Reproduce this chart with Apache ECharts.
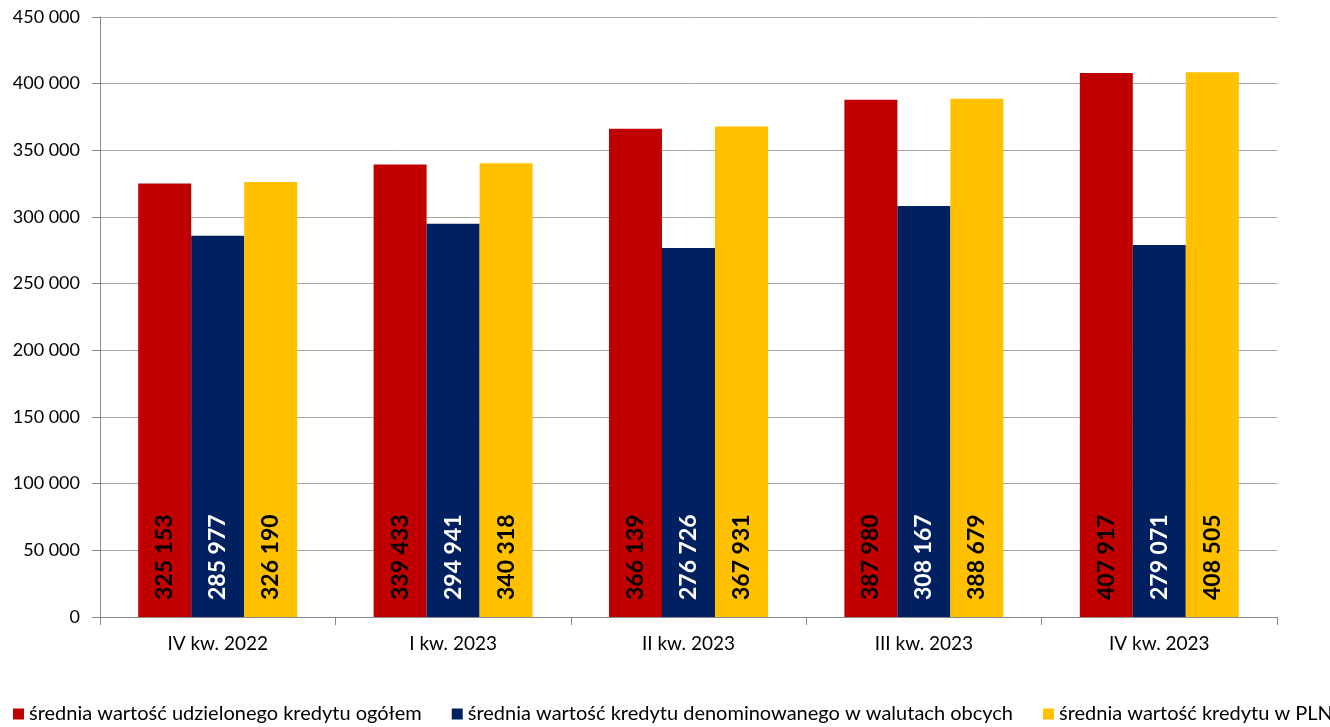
<!DOCTYPE html>
<html><head><meta charset="utf-8">
<script src="https://cdn.jsdelivr.net/npm/echarts@6/dist/echarts.min.js"></script>
<style>html,body{margin:0;padding:0;background:#fff}#c{width:1330px;height:727px}</style>
</head><body><div id="c"></div>
<script>
const categories = ['IV kw. 2022','I kw. 2023','II kw. 2023','III kw. 2023','IV kw. 2023'];
const seriesNames = ['średnia wartość udzielonego kredytu ogółem','średnia wartość kredytu denominowanego w walutach obcych','średnia wartość kredytu w PLN'];
const totalValues = [325153, 339433, 366139, 387980, 407917];
const foreignValues = [285977, 294941, 276726, 308167, 279071];
const plnValues = [326190, 340318, 367931, 388679, 408505];
const colors = ['#C00000','#002060','#FFC000'];
const labelColors = ['#000000','#ffffff','#000000'];
const FONT = 'Lato, "Open Sans", sans-serif';
const fmt = v => String(v).replace(/\B(?=(\d{3})+(?!\d))/g, ' ');
const chart = echarts.init(document.getElementById('c'));
const data = [totalValues, foreignValues, plnValues];
chart.setOption({
  animation:false,
  grid:{left:100,right:53,top:17,bottom:110},
  legend:{top:704,left:13,width:1500,padding:0,itemWidth:11,itemHeight:11,itemGap:30,icon:'rect',
    textStyle:{fontFamily:FONT,fontSize:20,color:'#000'}},
  xAxis:{type:'category',data:categories,
    axisLine:{lineStyle:{color:'#888'}},
    axisTick:{show:true,length:8,lineStyle:{color:'#888'}},
    axisLabel:{fontFamily:FONT,fontSize:19,color:'#000',margin:17}},
  yAxis:{type:'value',min:0,max:450000,interval:50000,
    axisLine:{show:true,lineStyle:{color:'#888'}},
    axisTick:{show:true,length:8,lineStyle:{color:'#888'}},
    splitLine:{lineStyle:{color:'#a6a6a6'}},
    axisLabel:{fontFamily:FONT,fontSize:18,color:'#000',margin:20,formatter:fmt}},
  series:data.map((d,i)=>({
    name:seriesNames[i],type:'bar',data:d,barWidth:53,barGap:'0%',
    itemStyle:{color:colors[i]},
    label:{show:true,position:'insideBottom',rotate:90,align:'left',verticalAlign:'middle',distance:17,
      formatter:p=>fmt(p.value),fontFamily:FONT,fontSize:23,fontWeight:'bold',color:labelColors[i]}
  }))
});
</script></body></html>
